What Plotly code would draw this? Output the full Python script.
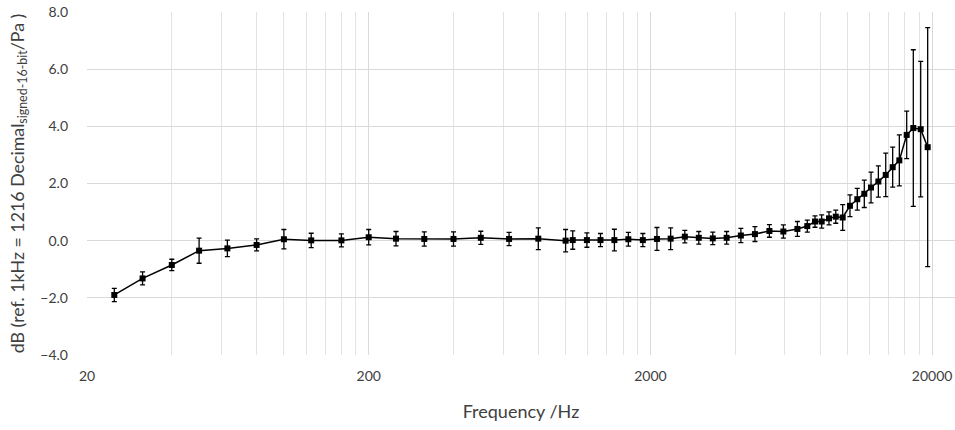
import plotly.graph_objects as go

freq_hz = [25, 31.5, 40, 50, 63, 80, 100, 125, 160, 200, 250, 315, 400, 500, 630, 800, 1000,
           1060, 1190, 1330, 1490, 1670, 1880, 2110, 2360, 2650, 2970, 3330, 3730, 4190, 4700,
           5290, 5930, 6650,
           7210, 7680, 8110, 8610, 9100, 9630, 10220, 10850, 11490, 12140, 12890, 13690, 14490,
           15300, 16250, 17150, 18220, 19290]

level_db = [-1.90, -1.32, -0.85, -0.35, -0.27, -0.15, 0.05, 0.01, 0.01, 0.12, 0.07, 0.06, 0.06,
            0.10, 0.06, 0.07, 0.00,
            0.02, 0.02, 0.02, 0.02, 0.05, 0.02, 0.06, 0.07, 0.14, 0.10, 0.08, 0.10, 0.18, 0.23,
            0.34, 0.32, 0.41,
            0.51, 0.67, 0.67, 0.78, 0.84, 0.81, 1.22, 1.45, 1.64, 1.86, 2.07, 2.30, 2.57,
            2.81, 3.70, 3.94, 3.90, 3.27]

error_db = [0.23, 0.23, 0.20, 0.44, 0.29, 0.21, 0.34, 0.25, 0.23, 0.27, 0.25, 0.25, 0.25,
            0.23, 0.23, 0.38, 0.39,
            0.32, 0.25, 0.23, 0.38, 0.24, 0.23, 0.40, 0.38, 0.22, 0.22, 0.22, 0.22, 0.25, 0.26,
            0.22, 0.23, 0.26,
            0.21, 0.20, 0.23, 0.23, 0.23, 0.45, 0.38, 0.38, 0.48, 0.54, 0.55, 0.76, 0.70,
            0.89, 0.83, 2.74, 2.37, 4.18]

x_major_ticks = [20, 200, 2000, 20000]
x_tick_labels = ["20", "200", "2000", "20000"]
y_ticks = [-4, -2, 0, 2, 4, 6, 8]

# minor gridlines at every multiple of the decade ticks (Excel-style log grid)
minor_grid = [t * k for t in x_major_ticks[:-1] for k in range(2, 10)]

fig = go.Figure()
fig.add_trace(go.Scatter(
    x=freq_hz, y=level_db, mode="lines+markers",
    line=dict(color="#000000", width=1.5),
    marker=dict(symbol="square", size=6, color="#000000"),
    error_y=dict(type="data", array=error_db, visible=True,
                 color="#000000", thickness=1.3, width=2.5),
    showlegend=False,
))

font_family = "Lato, 'Open Sans', sans-serif"
fig.update_layout(
    width=955, height=430,
    margin=dict(l=87, r=0, t=12, b=75),
    paper_bgcolor="white", plot_bgcolor="white",
    font=dict(family=font_family, color="#404040", size=14),
    xaxis=dict(
        type="log",
        range=[1.30103, 4.3823],
        automargin=False,
        tickmode="array", tickvals=x_major_ticks, ticktext=x_tick_labels,
        tickangle=0,
        showgrid=True, gridcolor="#d9d9d9", gridwidth=1,
        minor=dict(tickmode="array", tickvals=minor_grid, showgrid=True,
                   gridcolor="#e3e3e3", gridwidth=1, ticks=""),
        zeroline=False, showline=False, ticks="",
        tickfont=dict(size=14, color="#404040"),
        ticklabelstandoff=11,
        title=dict(text="Frequency /Hz", font=dict(size=18, color="#404040"), standoff=22),
    ),
    yaxis=dict(
        range=[-4, 8],
        automargin=False,
        tickmode="array", tickvals=y_ticks,
        tickformat=".1f",
        showgrid=True, gridcolor="#d9d9d9", gridwidth=1,
        zeroline=False, showline=False, ticks="",
        tickfont=dict(size=14, color="#404040"),
        ticklabelstandoff=18,
        title=dict(text="dB (ref. 1kHz = 1216 Decimal<sub>signed-16-bit</sub>/Pa )",
                   font=dict(size=17.8, color="#404040"), standoff=11),
    ),
)

fig.write_html("out.html", config={"displayModeBar": False},
               post_script="document.body.style.margin='0';")
